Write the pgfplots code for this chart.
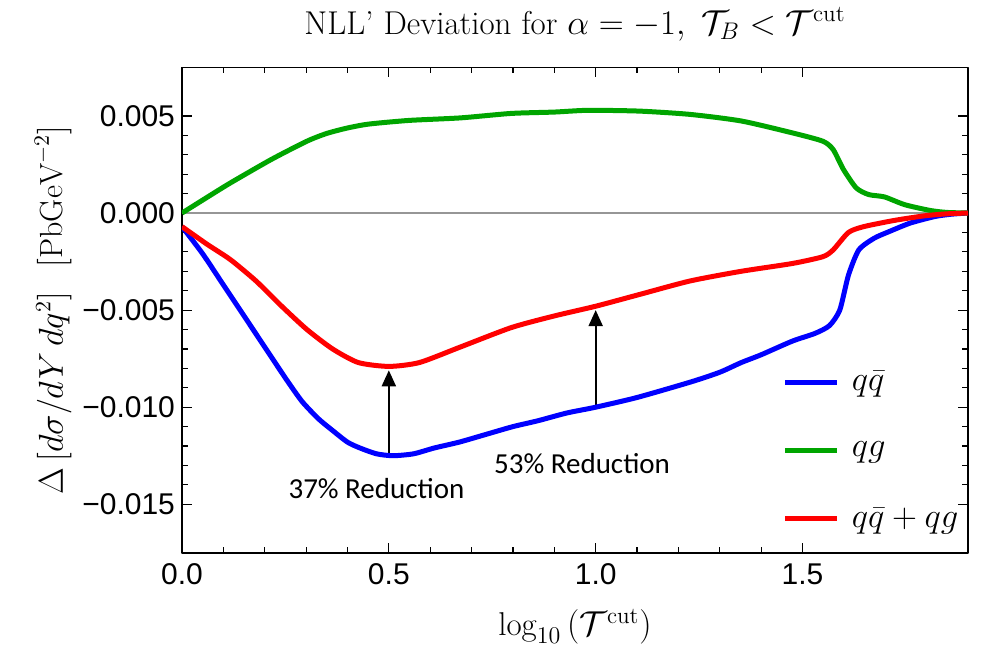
\documentclass[border=0pt]{standalone}
\usepackage{fontspec}
\usepackage{amsmath}
\usepackage{pgfplots}
\pgfplotsset{compat=1.18}
\usetikzlibrary{arrows.meta}
\newfontfamily\tickfont{Liberation Sans}
\newfontfamily\notefont{Carlito}
\definecolor{qqblue}{RGB}{0,0,255}
\definecolor{qggreen}{RGB}{0,165,0}
\definecolor{sumred}{RGB}{255,0,0}
\definecolor{zeroline}{RGB}{150,150,150}

\begin{document}
\begin{tikzpicture}
\useasboundingbox (-91pt,-48.7pt) rectangle (401pt,276.4pt);
\begin{axis}[
  scale only axis,
  width=393pt, height=242.7pt,
  xmin=0, xmax=1.9,
  ymin=-0.0175, ymax=0.0075,
  xtick={0,0.5,1,1.5}, xticklabels={0.0,0.5,1.0,1.5},
  ytick={-0.015,-0.01,-0.005,0,0.005},
  yticklabels={−0.015,−0.010,−0.005,0.000,0.005},
  scaled y ticks=false,
  minor x tick num=4, minor y tick num=4,
  tick align=inside,
  major tick length=5pt, minor tick length=3pt,
  every tick/.style={black,line width=0.6pt},
  axis line style={black,line width=0.9pt},
  ticklabel style={font=\tickfont\fontsize{15}{18}\selectfont},
  xticklabel style={yshift=-2pt},
  title={NLL' Deviation for $\alpha=-1,\ \mathcal{T}_B<\mathcal{T}^{\mathrm{cut}}$},
  title style={at={(0.5,1.0927)},anchor=center,yshift=-7pt,font=\fontsize{16.5}{19}\selectfont},
  xlabel={$\log_{10}\left(\mathcal{T}^{\mathrm{cut}}\right)$},
  xlabel style={at={(0.5,-0.152)},anchor=center,font=\fontsize{16.5}{19}\selectfont},
  ylabel={$\Delta\left[d\sigma/dY\,dq^2\right]\;\;[\mathrm{PbGeV}^{-2}]$},
  ylabel style={at={(-0.164,0.5)},anchor=center,font=\fontsize{16}{19}\selectfont},
  legend style={at={(0.764,0.21)},anchor=west,draw=none,fill=none,
    font=\fontsize{17}{20}\selectfont,row sep=20pt,inner sep=0pt,
    cells={anchor=west},nodes={inner xsep=6pt}},
  legend image code/.code={\draw[#1,line width=2.5pt] (0pt,0pt) -- (26pt,0pt);},
  line join=round,
]
\addplot[zeroline,line width=0.8pt,forget plot] coordinates {(0,0) (1.9,0)};

\addplot[black,line width=1pt,-{Triangle[length=8pt,width=7pt]},forget plot]
  coordinates {(0.5,-0.01245) (0.5,-0.0081)};
\addplot[black,line width=1pt,-{Triangle[length=8pt,width=7pt]},forget plot]
  coordinates {(1.0,-0.0100) (1.0,-0.0050)};

\addplot[qqblue,line width=2.5pt,smooth,tension=0.4] coordinates {
(0,-0.0007) (0.05,-0.0021) (0.1,-0.0037) (0.15,-0.0053) (0.2,-0.0069)
(0.25,-0.0085) (0.29,-0.0097) (0.33,-0.0106) (0.364,-0.0112) (0.4,-0.0118)
(0.43,-0.0121) (0.47,-0.0124) (0.51,-0.0125) (0.56,-0.0124) (0.61,-0.0121)
(0.67,-0.0118) (0.735,-0.0114) (0.8,-0.0110) (0.86,-0.0107) (0.93,-0.0103)
(1.0,-0.0100) (1.1,-0.0095) (1.23,-0.0087) (1.3,-0.0082) (1.352,-0.0077)
(1.4,-0.0073) (1.475,-0.0066) (1.53,-0.0062) (1.565,-0.0058) (1.59,-0.0050)
(1.611,-0.0032) (1.636,-0.0019) (1.673,-0.0013) (1.71,-0.00095) (1.76,-0.00052)
(1.82,-0.00018) (1.86,-0.00006) (1.9,0)
};
\addplot[qggreen,line width=2.5pt,smooth,tension=0.4] coordinates {
(0,0) (0.06,0.0008) (0.117,0.00155) (0.216,0.00276) (0.302,0.0037)
(0.35,0.0041) (0.40,0.00438) (0.451,0.00458) (0.549,0.00477) (0.673,0.0049) (0.796,0.00513)
(0.9,0.0052) (0.981,0.00529) (1.105,0.00525) (1.228,0.00508) (1.352,0.00474)
(1.475,0.00413) (1.549,0.0037) (1.574,0.00327) (1.599,0.00224) (1.63,0.00129)
(1.66,0.00095) (1.698,0.00083) (1.747,0.00043) (1.809,0.00013) (1.85,0.00003)
(1.9,0)
};
\addplot[sumred,line width=2.5pt,smooth,tension=0.4] coordinates {
(0,-0.0007) (0.06,-0.0016) (0.117,-0.0024) (0.179,-0.0035) (0.241,-0.0048)
(0.302,-0.0060) (0.364,-0.0070) (0.426,-0.0077) (0.5,-0.0079) (0.574,-0.0077)
(0.673,-0.0069) (0.796,-0.0059) (0.9,-0.0053) (1.0,-0.0048) (1.105,-0.0042)
(1.228,-0.0035) (1.352,-0.0030) (1.475,-0.0026) (1.549,-0.00225) (1.574,-0.0019)
(1.611,-0.0010) (1.648,-0.0007) (1.722,-0.00038) (1.796,-0.00014) (1.85,-0.00004)
(1.9,0)
};
\legend{$q\bar{q}$,$qg$,$q\bar{q}+qg$}

\node[font=\notefont\fontsize{14.5}{17}\selectfont] at (axis cs:0.47,-0.0142) {37\% Reduction};
\node[font=\notefont\fontsize{14.5}{17}\selectfont] at (axis cs:0.967,-0.01288) {53\% Reduction};
\end{axis}
\end{tikzpicture}
\end{document}
